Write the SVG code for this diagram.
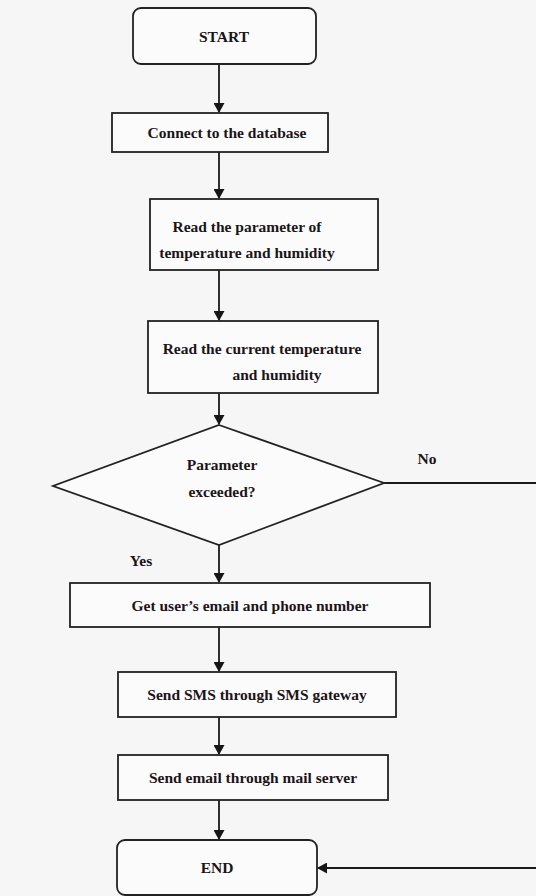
<svg xmlns="http://www.w3.org/2000/svg" width="536" height="896" viewBox="0 0 536 896">
<defs>
<marker id="arr" markerWidth="10" markerHeight="11" refX="9" refY="5.5" orient="auto" markerUnits="userSpaceOnUse">
<path d="M0,0 L10,5.5 L0,11 z" fill="#161616"/>
</marker>
<style>
.box{fill:#fbfbfb;stroke:#222;stroke-width:1.8}
.t{font-family:"Liberation Serif","DejaVu Serif",serif;font-weight:bold;font-size:15.5px;fill:#1c1418;text-anchor:middle}
.c{stroke:#1a1a1a;stroke-width:1.8;fill:none}
</style>
</defs>
<rect width="536" height="896" fill="#f6f6f6"/>
<g id="connectors">
<line class="c" x1="219" y1="64" x2="219" y2="112" marker-end="url(#arr)"/>
<line class="c" x1="219" y1="152" x2="219" y2="198" marker-end="url(#arr)"/>
<line class="c" x1="219" y1="270" x2="219" y2="320" marker-end="url(#arr)"/>
<line class="c" x1="219" y1="393" x2="219" y2="424" marker-end="url(#arr)"/>
<line class="c" x1="219" y1="545" x2="219" y2="582" marker-end="url(#arr)"/>
<line class="c" x1="219" y1="627" x2="219" y2="671" marker-end="url(#arr)"/>
<line class="c" x1="219" y1="717" x2="219" y2="754" marker-end="url(#arr)"/>
<line class="c" x1="219" y1="800" x2="219" y2="839" marker-end="url(#arr)"/>
<polyline class="c" points="384,483 537,483"/>
<line class="c" x1="537" y1="868" x2="318" y2="868" marker-end="url(#arr)"/>
<text class="t" x="427" y="464">No</text>
<text class="t" x="141" y="566">Yes</text>
</g>
<g id="start">
<rect class="box" x="133" y="8" width="183" height="56" rx="8"/>
<text class="t" x="224" y="42">START</text>
</g>
<g id="connect">
<rect class="box" x="112" y="113" width="216" height="39"/>
<text class="t" x="227" y="138">Connect to the database</text>
</g>
<g id="readparam">
<rect class="box" x="150" y="199" width="228" height="71"/>
<text class="t" x="247" y="232">Read the parameter of</text>
<text class="t" x="247" y="258">temperature and humidity</text>
</g>
<g id="readcurrent">
<rect class="box" x="148" y="321" width="230" height="72"/>
<text class="t" x="262" y="354">Read the current temperature</text>
<text class="t" x="277" y="380">and humidity</text>
</g>
<g id="decision">
<polygon class="box" points="219,425 384,483 219,545 53,486"/>
<text class="t" x="222" y="470">Parameter</text>
<text class="t" x="222" y="497">exceeded?</text>
</g>
<g id="getuser">
<rect class="box" x="70" y="583" width="360" height="44"/>
<text class="t" x="250" y="611">Get user’s email and phone number</text>
</g>
<g id="sendsms">
<rect class="box" x="118" y="672" width="278" height="45"/>
<text class="t" x="257" y="700">Send SMS through SMS gateway</text>
</g>
<g id="sendemail">
<rect class="box" x="118" y="755" width="270" height="45"/>
<text class="t" x="253" y="783">Send email through mail server</text>
</g>
<g id="end">
<rect class="box" x="117" y="840" width="200" height="55" rx="8"/>
<text class="t" x="217" y="873">END</text>
</g>
</svg>
